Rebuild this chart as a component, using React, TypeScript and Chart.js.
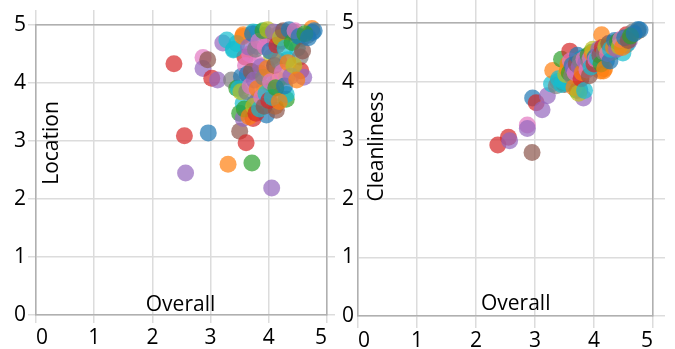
import React, { useEffect, useRef } from 'react';
import { Chart, registerables } from 'chart.js';

Chart.register(...registerables);

// Per-hotel scores (same hotels in both panels)
const overallScores = [
  2.37, 2.55, 2.57, 2.87, 2.87, 2.95, 2.96, 3.02, 3.12, 3.21, 3.28, 3.30, 3.39, 3.36, 3.45, 3.50,
  3.50, 3.53, 3.56, 3.56, 3.56, 3.59, 3.61, 3.67, 3.71, 3.73, 3.73, 3.76, 3.79, 3.79, 3.80, 3.82,
  3.85, 3.93, 3.96, 3.96, 4.00, 4.05, 4.05, 4.05, 4.11, 4.11, 4.13, 4.13, 4.16, 4.21, 4.22, 4.30,
  4.30, 4.31, 4.32, 4.34, 4.42, 4.49, 4.54, 4.55, 4.57, 4.60, 4.66, 4.74, 4.75, 4.78,
  3.40, 3.45, 3.48, 3.52, 3.55, 3.58, 3.60, 3.62, 3.63, 3.65, 3.66, 3.68, 3.70, 3.72, 3.74, 3.75,
  3.77, 3.78, 3.80, 3.83, 3.84, 3.86, 3.88, 3.90, 3.91, 3.92, 3.94, 3.95, 3.97, 3.98, 4.00, 4.02,
  4.03, 4.06, 4.08, 4.10, 4.12, 4.14, 4.17, 4.18, 4.20, 4.23, 4.25, 4.27, 4.28, 4.33, 4.35, 4.38,
  4.40, 4.43, 4.45, 4.48, 4.52, 4.58, 4.62, 4.68,
];

const locationScores = [
  4.33, 3.09, 2.45, 4.44, 4.25, 4.40, 3.14, 4.08, 4.05, 4.69, 4.74, 2.60, 4.57, 4.05, 3.91, 3.48,
  3.17, 4.11, 3.39, 3.65, 4.83, 4.45, 2.97, 4.50, 2.62, 3.39, 4.88, 3.65, 4.34, 4.63, 4.87, 3.72,
  4.17, 3.91, 3.45, 4.83, 4.77, 2.19, 3.88, 4.45, 4.71, 3.60, 3.53, 4.82, 4.05, 4.88, 4.72, 3.72,
  3.80, 4.11, 4.40, 4.85, 4.88, 4.60, 4.45, 4.21, 4.77, 4.10, 4.82, 4.94, 4.87, 4.90,
  4.58, 4.68, 3.90, 3.85, 4.80, 3.55, 4.30, 3.85, 4.15, 4.62, 3.42, 3.95, 4.20, 4.85, 3.60, 4.05,
  4.58, 3.48, 3.90, 4.72, 3.55, 4.28, 3.75, 4.90, 4.10, 3.60, 4.62, 3.82, 4.25, 4.92, 3.70, 4.55,
  4.02, 3.75, 4.88, 4.30, 3.92, 4.65, 4.38, 3.68, 4.78, 4.18, 4.90, 3.95, 4.60, 4.35, 4.92, 4.12,
  4.70, 4.30, 4.90, 4.05, 4.80, 4.55, 4.85, 4.78,
];

const cleanlinessScores = [
  2.92, 3.05, 2.99, 3.26, 3.20, 2.79, 3.72, 3.64, 3.52, 3.76, 3.96, 4.19, 4.00, 3.93, 4.38, 3.98,
  3.95, 4.02, 4.05, 3.97, 4.30, 4.52, 4.05, 4.25, 3.85, 4.10, 4.35, 3.86, 4.20, 4.30, 4.40, 3.72,
  4.28, 4.46, 4.25, 4.50, 4.40, 4.30, 4.45, 4.38, 4.42, 4.18, 4.40, 4.80, 4.18, 4.35, 4.55, 4.60,
  4.55, 4.50, 4.66, 4.62, 4.70, 4.49, 4.62, 4.80, 4.65, 4.70, 4.85, 4.86, 4.89, 4.88,
  4.05, 3.95, 4.00, 4.12, 4.20, 4.15, 4.35, 4.10, 4.28, 4.22, 3.90, 4.15, 4.30, 4.45, 3.80, 4.25,
  4.35, 4.05, 4.15, 4.38, 3.85, 4.32, 4.20, 4.45, 4.35, 4.10, 4.40, 4.25, 4.48, 4.55, 4.30, 4.42,
  4.38, 4.40, 4.55, 4.45, 4.30, 4.58, 4.50, 4.22, 4.60, 4.48, 4.65, 4.35, 4.55, 4.58, 4.70, 4.55,
  4.68, 4.60, 4.72, 4.58, 4.75, 4.70, 4.78, 4.82,
];

// index into the category palette for each hotel
const hotelColorIndex = [
  3, 3, 4, 6, 4, 5, 0, 3, 4, 4, 9, 1, 9, 7, 2, 2,
  5, 0, 4, 9, 1, 3, 3, 6, 2, 3, 9, 0, 6, 4, 9, 4,
  1, 8, 0, 2, 4, 4, 3, 8, 5, 1, 5, 1, 1, 0, 2, 2,
  9, 8, 9, 7, 5, 9, 7, 3, 9, 4, 7, 1, 0, 0,
  9, 9, 9, 8, 1, 2, 6, 7, 0, 4, 1, 6, 5, 0, 8, 4,
  7, 3, 1, 6, 9, 4, 6, 2, 7, 5, 6, 9, 1, 8, 3, 0,
  6, 9, 4, 5, 2, 3, 7, 1, 8, 6, 5, 0, 9, 1, 0, 4,
  2, 8, 6, 1, 0, 5, 2, 0,
];

const categoryColors = [
  'rgba(31,119,180,0.7)',
  'rgba(255,127,14,0.7)',
  'rgba(44,160,44,0.7)',
  'rgba(214,39,40,0.7)',
  'rgba(148,103,189,0.7)',
  'rgba(140,86,75,0.7)',
  'rgba(227,119,194,0.7)',
  'rgba(127,127,127,0.7)',
  'rgba(188,189,34,0.7)',
  'rgba(23,190,207,0.7)',
];

const axisMin = 0;
const axisMax = 5;
const axisStep = 1;

const FONT = '"Open Sans", "Noto Sans", sans-serif';
const GRID = '#dcdcdc';
const FRAME = '#b0b0b0';

type PanelLayout = {
  width: number;
  left: number;
  yW: number; yTick: number; yPad: number;
  x2H: number; x2Tick: number;
  y2W: number; y2Tick: number;
  xH: number; xTick: number; xPad: number;
  xTitle: string; yTitle: string;
  xTitlePos: [number, number];
  yTitlePos: [number, number];
};

const innerTitles = {
  id: 'innerTitles',
  beforeDatasetsDraw(chart: any, _args: any, opts: any) {
    const ctx = chart.ctx;
    ctx.save();
    ctx.font = `21px ${FONT}`;
    ctx.fillStyle = '#000';
    ctx.textAlign = 'center';
    ctx.textBaseline = 'alphabetic';
    ctx.fillText(opts.xTitle, opts.xTitlePos[0], opts.xTitlePos[1]);
    ctx.translate(opts.yTitlePos[0], opts.yTitlePos[1]);
    ctx.rotate(-Math.PI / 2);
    ctx.fillText(opts.yTitle, 0, 0);
    ctx.restore();
  },
};

function Panel({ layout, yValues }: { layout: PanelLayout; yValues: number[] }) {
  const ref = useRef<HTMLCanvasElement>(null);
  useEffect(() => {
    if (!ref.current) return;
    const points = overallScores.map((x, i) => ({ x, y: yValues[i] }));
    const colors = hotelColorIndex.map((c) => categoryColors[c]);
    const L = layout;
    const tickFont = { family: FONT, size: 21 };
    const chart = new Chart(ref.current, {
      type: 'scatter',
      data: {
        datasets: [
          {
            data: points,
            backgroundColor: colors,
            borderWidth: 0,
            pointRadius: 8.5,
            pointHoverRadius: 8.5,
            clip: false as any,
          },
        ],
      },
      options: {
        animation: false,
        responsive: false,
        devicePixelRatio: 1,
        layout: { padding: 0 },
        plugins: {
          legend: { display: false },
          tooltip: { enabled: false },
          innerTitles: {
            xTitle: L.xTitle,
            yTitle: L.yTitle,
            xTitlePos: L.xTitlePos,
            yTitlePos: L.yTitlePos,
          },
        } as any,
        scales: {
          x: {
            type: 'linear',
            position: 'bottom',
            min: axisMin,
            max: axisMax,
            ticks: { stepSize: axisStep, font: tickFont, color: '#000', padding: L.xPad, align: 'inner', maxRotation: 0 },
            grid: { color: GRID, lineWidth: 1.5, tickLength: L.xTick, drawTicks: true },
            border: { color: FRAME, width: 1.5 },
            afterFit: (s: any) => { s.height = L.xH; },
          },
          x2: {
            type: 'linear',
            axis: 'x',
            position: 'top',
            min: axisMin,
            max: axisMax,
            ticks: { stepSize: axisStep, display: false },
            grid: { color: GRID, lineWidth: 1.5, tickLength: L.x2Tick, drawOnChartArea: false },
            border: { color: FRAME, width: 1.5 },
            afterFit: (s: any) => { s.height = L.x2H; },
          },
          y: {
            type: 'linear',
            position: 'left',
            min: axisMin,
            max: axisMax,
            ticks: { stepSize: axisStep, font: tickFont, color: '#000', padding: L.yPad },
            grid: { color: GRID, lineWidth: 1.5, tickLength: L.yTick, drawTicks: L.yTick > 0 },
            border: { color: FRAME, width: 1.5 },
            afterFit: (s: any) => { s.width = L.yW; },
          },
          y2: {
            type: 'linear',
            axis: 'y',
            position: 'right',
            min: axisMin,
            max: axisMax,
            ticks: { stepSize: axisStep, display: false },
            grid: { color: GRID, lineWidth: 1.5, tickLength: L.y2Tick, drawOnChartArea: false },
            border: { color: FRAME, width: 1.5 },
            afterFit: (s: any) => { s.width = L.y2W; },
          },
        } as any,
      },
      plugins: [innerTitles as any],
    });
    return () => chart.destroy();
  }, [layout, yValues]);
  return (
    <canvas
      ref={ref}
      width={layout.width}
      height={349}
      style={{ position: 'absolute', left: layout.left, top: 0, width: layout.width, height: 349 }}
    />
  );
}

const leftLayout: PanelLayout = {
  width: 337, left: 0,
  yW: 36, yTick: 8, yPad: 2,
  x2H: 25, x2Tick: 15,
  y2W: 10, y2Tick: 8,
  xH: 34, xTick: 8, xPad: 2,
  xTitle: 'Overall', yTitle: 'Location',
  xTitlePos: [180.5, 311],
  yTitlePos: [58, 143],
};

const rightLayout: PanelLayout = {
  width: 338, left: 337,
  yW: 21, yTick: 0, yPad: 4,
  x2H: 23, x2Tick: 23,
  y2W: 22, y2Tick: 12,
  xH: 33, xTick: 12, xPad: 0,
  xTitle: 'Overall', yTitle: 'Cleanliness',
  xTitlePos: [178.7, 310],
  yTitlePos: [46, 146.5],
};

export default function App() {
  return (
    <div style={{ position: 'absolute', left: 0, top: 0, width: 675, height: 349, background: '#fff' }}>
      <Panel layout={leftLayout} yValues={locationScores} />
      <Panel layout={rightLayout} yValues={cleanlinessScores} />
    </div>
  );
}
